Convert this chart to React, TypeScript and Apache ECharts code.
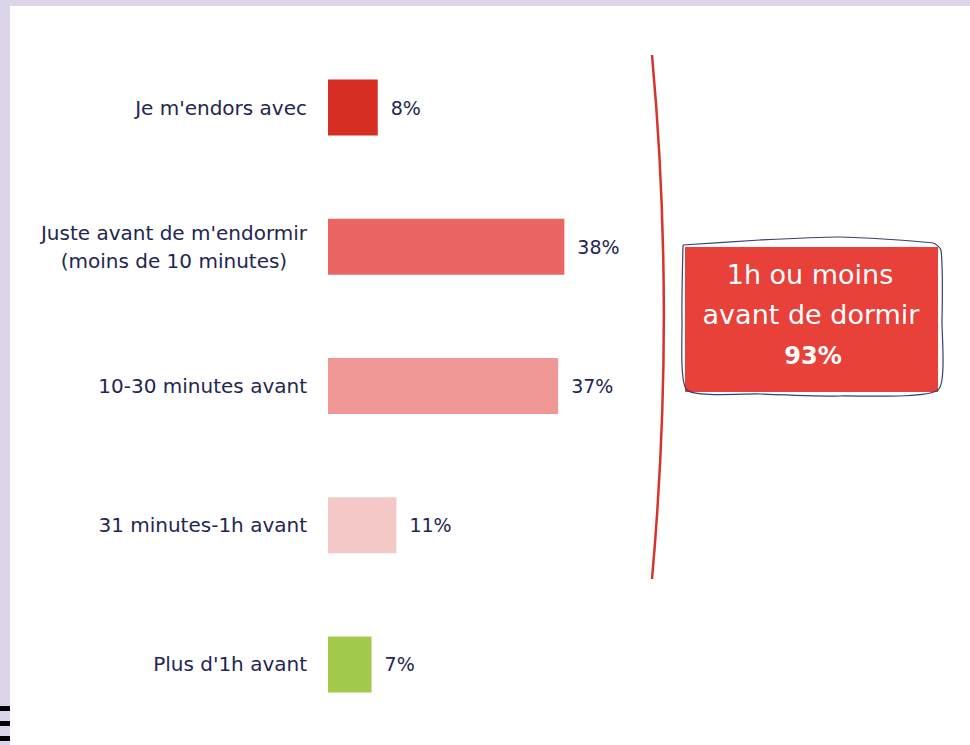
import React, { useEffect, useRef } from "react";
import * as echarts from "echarts";

const categories = [
  "Je m'endors avec",
  "Juste avant de m'endormir\n(moins de 10 minutes)",
  "10-30 minutes avant",
  "31 minutes-1h avant",
  "Plus d'1h avant",
];
const values = [8, 38, 37, 11, 7];
const barColors = ["#d62e22", "#eb6663", "#f09896", "#f5c9c7", "#a3c94a"];
const boxLines = ["1h ou moins", "avant de dormir", "93%"];

export default function App() {
  const ref = useRef<HTMLDivElement>(null);
  useEffect(() => {
    if (!ref.current) return;
    const chart = echarts.init(ref.current, null, { renderer: "svg" });
    const navy = "#232652";
    const font = "DejaVu Sans";
    chart.setOption({
      animation: false,
      backgroundColor: "#dcd5e9",
      grid: { left: 328, right: 20, top: 38, bottom: 11, containLabel: false },
      xAxis: {
        type: "value",
        min: 0,
        max: 100,
        show: false,
        splitLine: { show: false },
      },
      yAxis: {
        type: "category",
        inverse: true,
        data: categories,
        axisLine: { show: false },
        axisTick: { show: false },
        axisLabel: {
          margin: 21,
          color: navy,
          fontFamily: font,
          fontSize: 20,
          lineHeight: 28,
          formatter: (v: string) =>
            v
              .split("\n")
              .map((l) => `{c|${l}}`)
              .join("\n"),
          rich: {
            c: {
              align: "center",
              color: navy,
              fontFamily: font,
              fontSize: 20,
              lineHeight: 28,
            },
          },
        },
      },
      graphic: [
        {
          type: "rect",
          z: -10,
          shape: { x: 10, y: 6, width: 960, height: 739 },
          style: { fill: "#ffffff" },
        },
        { type: "rect", shape: { x: 0, y: 706, width: 10, height: 5 }, style: { fill: "#000000" } },
        { type: "rect", shape: { x: 0, y: 721, width: 10, height: 5 }, style: { fill: "#000000" } },
        { type: "rect", shape: { x: 0, y: 736, width: 10, height: 5 }, style: { fill: "#000000" } },
        {
          type: "bezierCurve",
          shape: { x1: 652, y1: 55, x2: 652, y2: 579, cpx1: 668, cpy1: 230, cpx2: 668, cpy2: 400 },
          style: { stroke: "#d8322c", lineWidth: 2.5, fill: "none" },
        },
        {
          type: "rect",
          shape: { x: 685, y: 247, width: 253, height: 145 },
          style: { fill: "#e8413a" },
        },
        {
          type: "polyline",
          shape: {
            points: [
              [683, 245],
              [760, 240],
              [840, 237],
              [933, 243],
              [941, 250],
              [942, 320],
              [938, 390],
              [840, 396],
              [760, 394],
              [687, 390],
              [682, 320],
              [683, 245],
            ],
            smooth: 0.2,
          },
          style: { stroke: "#3b3f6e", lineWidth: 1.2, fill: "none" },
        },
        {
          type: "text",
          x: 810,
          y: 274,
          style: {
            text: boxLines[0],
            fill: "#ffffff",
            font: "27px 'DejaVu Sans'",
            textAlign: "center",
            textVerticalAlign: "middle",
          },
        },
        {
          type: "text",
          x: 811,
          y: 314,
          style: {
            text: boxLines[1],
            fill: "#ffffff",
            font: "27px 'DejaVu Sans'",
            textAlign: "center",
            textVerticalAlign: "middle",
          },
        },
        {
          type: "text",
          x: 813,
          y: 356,
          style: {
            text: boxLines[2],
            fill: "#ffffff",
            font: "bold 24px 'DejaVu Sans'",
            textAlign: "center",
            textVerticalAlign: "middle",
          },
        },
      ],
      series: [
        {
          type: "bar",
          barWidth: 56,
          data: values.map((v, i) => ({ value: v, itemStyle: { color: barColors[i] } })),
          label: {
            show: true,
            position: "right",
            distance: 13,
            formatter: "{c}%",
            color: navy,
            fontFamily: font,
            fontSize: 19,
          },
        },
      ],
    });
    return () => chart.dispose();
  }, []);
  return (
    <div
      ref={ref}
      style={{ position: "absolute", left: 0, top: 0, width: 970, height: 745 }}
    />
  );
}
